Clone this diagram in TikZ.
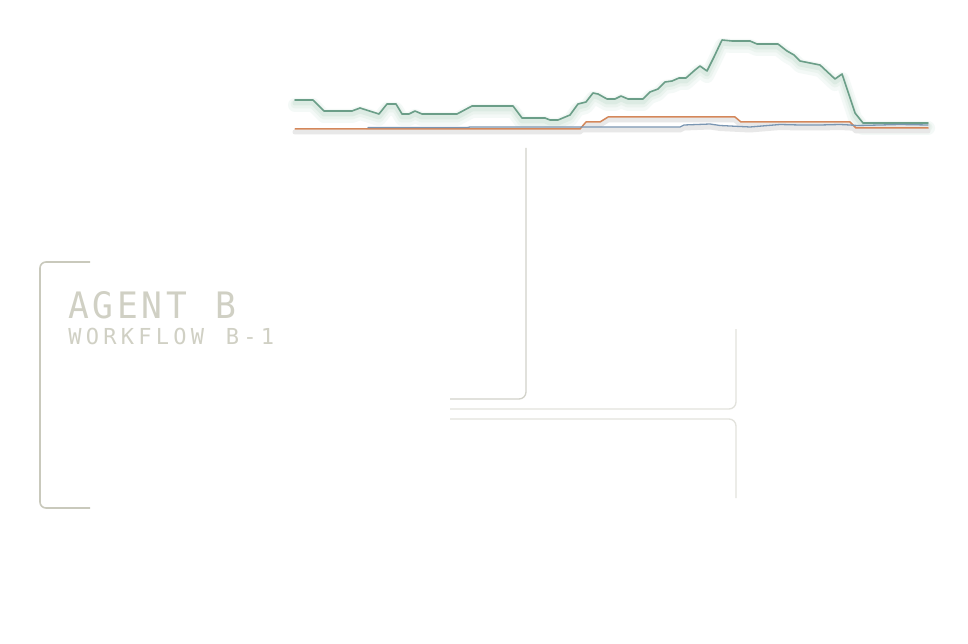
\documentclass[tikz,border=0pt]{standalone}
\usepackage{graphicx}
\usepackage{fontspec}
\newfontfamily\labelmono{DejaVu Sans Mono}
\definecolor{txtc}{HTML}{D0D0C4}
\definecolor{brk}{HTML}{C9C9BC}
\definecolor{lineb}{HTML}{D2D2CA}
\definecolor{linec}{HTML}{E2E2DC}
\definecolor{grn}{HTML}{6B9E88}
\definecolor{grnglow}{HTML}{DCEBE3}
\definecolor{org}{HTML}{D4875A}
\definecolor{blu}{HTML}{7A96B2}
\definecolor{shd}{HTML}{E8E8E8}
\makeatletter
\newcommand\monoset[3]{\def\mono@adv{#1}\def\mono@sx{#2}\mono@loop#3\relax}
\def\mono@loop#1{\ifx#1\relax\else\makebox[\mono@adv][c]{\scalebox{\mono@sx}[1]{#1}}\expandafter\mono@loop\fi}
\makeatother
\tikzset{
  bracketline/.style={draw=brk, line width=1.6pt, rounded corners=6pt},
  innerline/.style={draw=lineb, line width=1.3pt, rounded corners=7pt},
  lightline/.style={draw=linec, line width=1.3pt, rounded corners=7pt},
  labeltext/.style={anchor=base west, inner sep=0pt, text=txtc},
  series/.style={line join=round, line cap=round},
}
\begin{document}
\begin{tikzpicture}[x=1pt,y=-1pt]
\useasboundingbox[fill=white] (0,0) rectangle (968,644);

% ---- chart shadows
\foreach \w/\c/\s in {14/grnglow!30/5, 9/grnglow!60/4, 5/grnglow/3}{
  \draw[series, line width=\w pt, draw=\c, yshift=-\s pt]
  (295,100) -- (313,100) -- (324,111) -- (352,111) -- (360,108) -- (379,114) -- (387,104) -- (396,104) -- (402,114) -- (409,114) -- (415,111) -- (422,114) -- (457,114) -- (472,106) -- (513,106) -- (522,118) -- (545,118) -- (550,120) -- (558,120) -- (570,115) -- (578,104) -- (586,102) -- (593,93) -- (598,94) -- (607,99) -- (615,99) -- (621,96) -- (628,99) -- (643,99) -- (650,92) -- (658,89) -- (665,82) -- (672,81) -- (679,78) -- (686,78) -- (695,70) -- (700,66) -- (707,71) -- (714,57) -- (722,40) -- (732,41) -- (750,41) -- (757,44) -- (778,44) -- (787,51) -- (794,55) -- (800,61) -- (810,63) -- (820,65) -- (835,79) -- (842,74) -- (855,113) -- (863,123) -- (928,123);
}
\draw[series, line width=5pt, draw=shd, yshift=-3pt]
  (368,128) -- (467,128) -- (470,127) -- (680,127) -- (684,125) -- (710,124) -- (720,125.5) -- (740,126.5) -- (750,127) -- (762,126) -- (780,124.5) -- (800,125) -- (820,125) -- (840,124.5) -- (850,125) -- (857,125.5) -- (880,125) -- (900,124.5) -- (928,125);
\draw[series, line width=5pt, draw=shd, yshift=-3pt]
  (295,129) -- (580,129) -- (586,122) -- (600,122) -- (608,117) -- (735,117) -- (741,122) -- (850,122) -- (856,128) -- (928,128);

% ---- chart lines
\draw[series, line width=1.6pt, draw=grn]
  (295,100) -- (313,100) -- (324,111) -- (352,111) -- (360,108) -- (379,114) -- (387,104) -- (396,104) -- (402,114) -- (409,114) -- (415,111) -- (422,114) -- (457,114) -- (472,106) -- (513,106) -- (522,118) -- (545,118) -- (550,120) -- (558,120) -- (570,115) -- (578,104) -- (586,102) -- (593,93) -- (598,94) -- (607,99) -- (615,99) -- (621,96) -- (628,99) -- (643,99) -- (650,92) -- (658,89) -- (665,82) -- (672,81) -- (679,78) -- (686,78) -- (695,70) -- (700,66) -- (707,71) -- (714,57) -- (722,40) -- (732,41) -- (750,41) -- (757,44) -- (778,44) -- (787,51) -- (794,55) -- (800,61) -- (810,63) -- (820,65) -- (835,79) -- (842,74) -- (855,113) -- (863,123) -- (928,123);
\draw[series, line width=1.5pt, draw=org]
  (295,129) -- (580,129) -- (586,122) -- (600,122) -- (608,117) -- (735,117) -- (741,122) -- (850,122) -- (856,128) -- (928,128);
\draw[series, line width=1.3pt, draw=blu]
  (368,127.6) -- (467,127.6) -- (470,127) -- (680,127) -- (684,125) -- (710,124) -- (720,125.5) -- (740,126.5) -- (750,127) -- (762,126) -- (780,124.5) -- (800,125) -- (820,125) -- (840,124.5) -- (850,125) -- (857,125.5) -- (880,125) -- (900,124.5) -- (928,125);

% ---- frames
\draw[bracketline] (90,262) -- (40,262) -- (40,508) -- (90,508);
\draw[innerline] (526,148) -- (526,399) -- (450,399);
\draw[lightline] (450,409) -- (736,409) -- (736,329);
\draw[lightline] (450,419) -- (736,419) -- (736,498);

% ---- labels
\node[labeltext, font=\labelmono\fontsize{36.4}{36.4}\selectfont] (agent) at (66,318) {\monoset{24.5pt}{0.95}{AGENT~B}};
\node[labeltext, font=\labelmono\fontsize{22}{22}\selectfont] (workflow) at (66,344) {\monoset{17.5pt}{1}{WORKFLOW~B-1}};
\end{tikzpicture}
\end{document}
